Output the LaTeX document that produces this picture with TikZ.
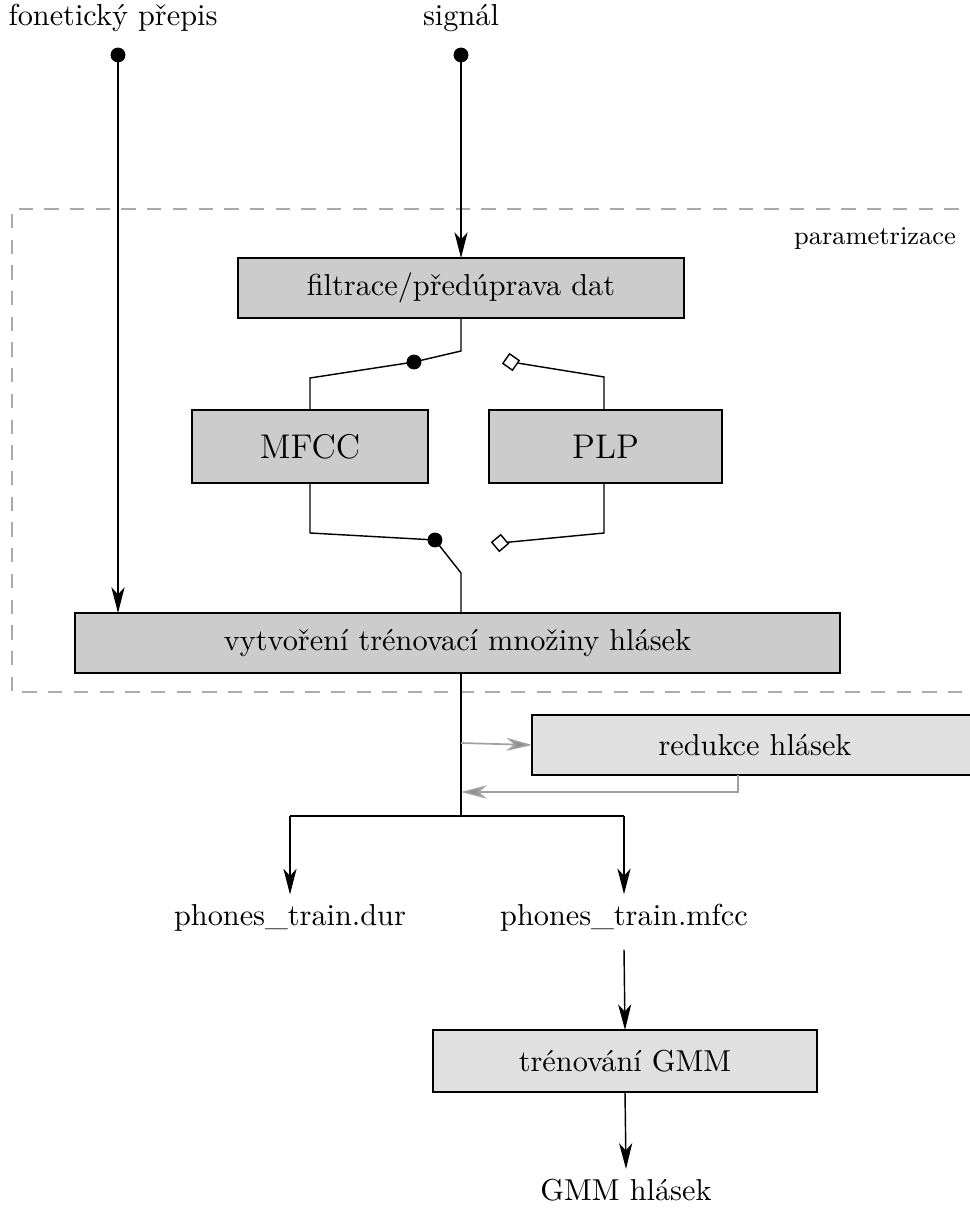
\documentclass[tikz,border=0pt]{standalone}
\usepackage{fontspec}
\usepackage{tikz}
\usetikzlibrary{arrows.meta,shapes.geometric}
\definecolor{boxgray}{RGB}{204,204,204}
\definecolor{lightgray}{RGB}{224,224,224}
\definecolor{dashgray}{RGB}{170,170,170}
\definecolor{arrgray}{RGB}{160,160,160}

\tikzset{
  block/.style={draw,line width=0.7pt,fill=boxgray,inner sep=0pt,outer sep=0pt},
  lblock/.style={block,fill=lightgray},
  flow/.style={line width=0.5pt,-{Stealth[length=9pt,width=4.6pt,inset=2.5pt]}},
  wire/.style={line width=0.5pt},
  gflow/.style={line width=0.6pt,arrgray,-{Stealth[length=9pt,width=4.6pt,inset=2.8pt,fill=gray!90]}},
  swdiam/.style={diamond,draw,fill=white,line width=0.5pt,inner sep=0pt,minimum size=6pt},
}

\begin{document}
\begin{tikzpicture}[x=0.35pt,y=-0.35pt,font=\fontsize{10.6pt}{12.7pt}\selectfont]
\useasboundingbox (0,0) rectangle (969,1211);
% parametrizace frame
\draw[dashgray,dashed,dash pattern=on 5pt off 4pt,line width=0.6pt] (1010,209) -- (12,209) -- (12,692) -- (1010,692);
\node (param) at (875,239) {\small parametrizace};

% inputs
\node (fon) at (113,18) {fonetický přepis};
\node (sig) at (461,18) {signál};
\coordinate (fdot) at (118,55);
\coordinate (sdot) at (461,55);

% blocks
\node[block,minimum width=156.1pt,minimum height=21pt] (filtr) at (461,288) {filtrace/předúprava dat};
\node[block,minimum width=82.6pt,minimum height=25.5pt] (mfcc) at (310,446.5) {\large MFCC};
\node[block,minimum width=81.6pt,minimum height=25.5pt] (plp) at (605.5,446.5) {\large PLP};
\node[block,minimum width=267.8pt,minimum height=21pt] (vytv) at (457.5,643) {vytvoření trénovací množiny hlásek};
\node[lblock,minimum width=156.1pt,minimum height=21pt] (redu) at (755,745) {redukce hlásek};
\node[lblock,minimum width=134.4pt,minimum height=21.7pt] (gmm) at (625,1061) {trénování GMM};

% outputs
\node (dur) at (290,918) {phones\_train.dur};
\node (mfc) at (624,918) {phones\_train.mfcc};
\node (hlas) at (626,1190) {GMM hlásek};

% switch points
\coordinate (s1) at (414,362);
\coordinate (s2) at (511,362);
\coordinate (s3) at (435,540);
\coordinate (s4) at (500,543);

% input lines
\draw[flow] (fdot) -- (fdot |- vytv.north);
\draw[flow] (sdot) -- (filtr.north);
\fill (fdot) circle (2.6pt);
\fill (sdot) circle (2.6pt);

% switch above
\draw[wire] (filtr.south) -- (461,351) -- (s1) -- (310,378) -- (mfcc.north);
\draw[wire] (s2) -- (604,377) -- (604,410);
\fill (s1) circle (2.6pt);
\node[swdiam,rotate=10] (d2) at (s2) {};

% switch below
\draw[wire] (mfcc.south) -- (310,533) -- (s3) -- (461,573) -- (461,613);
\draw[wire] (604,483) -- (604,533) -- (s4);
\fill (s3) circle (2.6pt);
\node[swdiam,rotate=-5] (d4) at (s4) {};

% output part
\coordinate (br) at (461,816);
\draw[wire] (461,673) -- (br);
\draw[wire] (dur.north |- br) -- (mfc.north |- br);
\draw[flow] (dur.north |- br) -- (dur.north);
\draw[flow] (mfc.north |- br) -- (mfc.north);
\draw[gflow] (461,743) -- (redu.west);
\draw[gflow] (738,775) -- (738,792) -- (461,792);

\draw[flow] (mfc.south) ++(0,8) -- (gmm.north);
\draw[flow] (gmm.south) -- (hlas.north);
\end{tikzpicture}
\end{document}
